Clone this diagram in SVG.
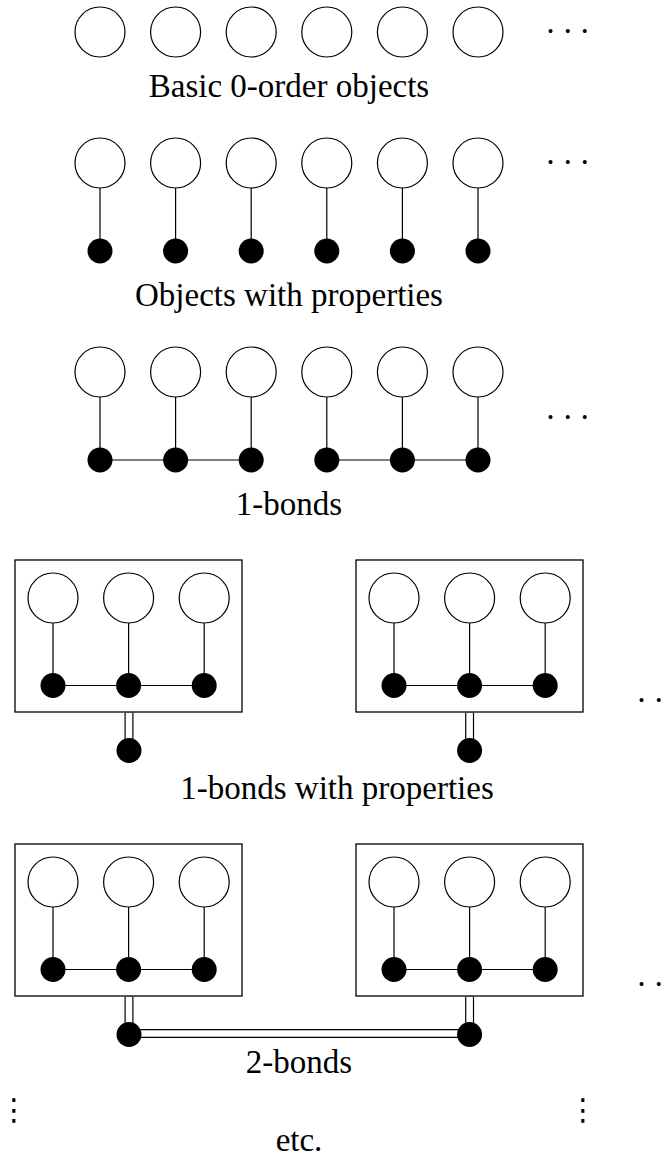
<svg xmlns="http://www.w3.org/2000/svg" width="670" height="1162" viewBox="0 0 670 1162">
<style>
.o{fill:#fff;stroke:#000;stroke-width:1.2}
.f{fill:#000;stroke:none}
.ln{stroke:#000;stroke-width:1.2;fill:none}
.box{fill:none;stroke:#000;stroke-width:1.3}
.dbo{stroke:#000;stroke-width:9;fill:none}
.dbi{stroke:#fff;stroke-width:6.6;fill:none}
.lbl{font-family:"Liberation Serif","DejaVu Serif",serif;font-size:33px;fill:#000;text-anchor:middle}
.dots{font-family:"Liberation Serif","DejaVu Serif",serif;font-size:33px;fill:#000;letter-spacing:6.25px}
.vdots{font-family:"DejaVu Sans",sans-serif;font-size:30px;fill:#000;text-anchor:middle}
</style>
<rect width="670" height="1162" fill="#fff"/>

<g id="connectors">
  <path class="ln" d="M100 188V251M175.6 188V251M251.2 188V251M326.8 188V251M402.4 188V251M478 188V251"/>
  <path class="ln" d="M100 397V460M175.6 397V460M251.2 397V460M326.8 397V460M402.4 397V460M478 397V460"/>
  <path class="ln" d="M100 460H251.2M326.8 460H478"/>
  <path class="ln" d="M53 623V685.5M128.6 623V685.5M204.2 623V685.5M53 685.5H204.2"/>
  <path class="ln" d="M394 623V685.5M469.6 623V685.5M545.2 623V685.5M394 685.5H545.2"/>
  <path class="dbo" d="M129 712.7V750M469.6 712.7V750"/>
  <path class="dbi" d="M129 712.7V750M469.6 712.7V750"/>
  <path class="ln" d="M53 907V969.5M128.6 907V969.5M204.2 907V969.5M53 969.5H204.2"/>
  <path class="ln" d="M394 907V969.5M469.6 907V969.5M545.2 907V969.5M394 969.5H545.2"/>
  <path class="dbo" d="M129 996.7V1034M469.6 996.7V1034M129 1033.5H469.6"/>
  <path class="dbi" d="M129 996.7V1034M469.6 996.7V1034M129 1033.5H469.6"/>
</g>

<g id="row1">
  <circle class="o" cx="100" cy="32" r="25"/>
  <circle class="o" cx="175.6" cy="32" r="25"/>
  <circle class="o" cx="251.2" cy="32" r="25"/>
  <circle class="o" cx="326.8" cy="32" r="25"/>
  <circle class="o" cx="402.4" cy="32" r="25"/>
  <circle class="o" cx="478" cy="32" r="25"/>
  <text class="dots" x="544.9" y="41.6">···</text>
  <text class="lbl" x="289" y="97">Basic 0-order objects</text>
</g>

<g id="row2">
  <circle class="o" cx="100" cy="163" r="25"/>
  <circle class="o" cx="175.6" cy="163" r="25"/>
  <circle class="o" cx="251.2" cy="163" r="25"/>
  <circle class="o" cx="326.8" cy="163" r="25"/>
  <circle class="o" cx="402.4" cy="163" r="25"/>
  <circle class="o" cx="478" cy="163" r="25"/>
  <circle class="f" cx="100" cy="251" r="12.5"/>
  <circle class="f" cx="175.6" cy="251" r="12.5"/>
  <circle class="f" cx="251.2" cy="251" r="12.5"/>
  <circle class="f" cx="326.8" cy="251" r="12.5"/>
  <circle class="f" cx="402.4" cy="251" r="12.5"/>
  <circle class="f" cx="478" cy="251" r="12.5"/>
  <text class="dots" x="544.9" y="172.6">···</text>
  <text class="lbl" x="289" y="306">Objects with properties</text>
</g>

<g id="row3">
  <circle class="o" cx="100" cy="372" r="25"/>
  <circle class="o" cx="175.6" cy="372" r="25"/>
  <circle class="o" cx="251.2" cy="372" r="25"/>
  <circle class="o" cx="326.8" cy="372" r="25"/>
  <circle class="o" cx="402.4" cy="372" r="25"/>
  <circle class="o" cx="478" cy="372" r="25"/>
  <circle class="f" cx="100" cy="460" r="12.5"/>
  <circle class="f" cx="175.6" cy="460" r="12.5"/>
  <circle class="f" cx="251.2" cy="460" r="12.5"/>
  <circle class="f" cx="326.8" cy="460" r="12.5"/>
  <circle class="f" cx="402.4" cy="460" r="12.5"/>
  <circle class="f" cx="478" cy="460" r="12.5"/>
  <text class="dots" x="544.9" y="427.6">···</text>
  <text class="lbl" x="289" y="515">1-bonds</text>
</g>

<g id="section4-left">
  <rect class="box" x="15" y="560" width="227" height="152"/>
  <circle class="o" cx="53" cy="598" r="25"/>
  <circle class="o" cx="128.6" cy="598" r="25"/>
  <circle class="o" cx="204.2" cy="598" r="25"/>
  <circle class="f" cx="53" cy="685.5" r="12.5"/>
  <circle class="f" cx="128.6" cy="685.5" r="12.5"/>
  <circle class="f" cx="204.2" cy="685.5" r="12.5"/>
  <circle class="f" cx="129" cy="750.5" r="12.5"/>
</g>
<g id="section4-right">
  <rect class="box" x="356" y="560" width="227" height="152"/>
  <circle class="o" cx="394" cy="598" r="25"/>
  <circle class="o" cx="469.6" cy="598" r="25"/>
  <circle class="o" cx="545.2" cy="598" r="25"/>
  <circle class="f" cx="394" cy="685.5" r="12.5"/>
  <circle class="f" cx="469.6" cy="685.5" r="12.5"/>
  <circle class="f" cx="545.2" cy="685.5" r="12.5"/>
  <circle class="f" cx="469.6" cy="750.5" r="12.5"/>
</g>
<g id="section4-label">
  <text class="dots" x="636" y="710.6">··</text>
  <text class="lbl" x="337" y="799">1-bonds with properties</text>
</g>

<g id="section5-left">
  <rect class="box" x="15" y="844" width="227" height="152"/>
  <circle class="o" cx="53" cy="882" r="25"/>
  <circle class="o" cx="128.6" cy="882" r="25"/>
  <circle class="o" cx="204.2" cy="882" r="25"/>
  <circle class="f" cx="53" cy="969.5" r="12.5"/>
  <circle class="f" cx="128.6" cy="969.5" r="12.5"/>
  <circle class="f" cx="204.2" cy="969.5" r="12.5"/>
  <circle class="f" cx="129" cy="1034.5" r="12.5"/>
</g>
<g id="section5-right">
  <rect class="box" x="356" y="844" width="227" height="152"/>
  <circle class="o" cx="394" cy="882" r="25"/>
  <circle class="o" cx="469.6" cy="882" r="25"/>
  <circle class="o" cx="545.2" cy="882" r="25"/>
  <circle class="f" cx="394" cy="969.5" r="12.5"/>
  <circle class="f" cx="469.6" cy="969.5" r="12.5"/>
  <circle class="f" cx="545.2" cy="969.5" r="12.5"/>
  <circle class="f" cx="469.6" cy="1034.5" r="12.5"/>
</g>
<g id="section5-label">
  <text class="dots" x="636" y="994.6">··</text>
  <text class="lbl" x="299" y="1073">2-bonds</text>
</g>

<g id="etc">
  <text class="vdots" x="14" y="1120">⋮</text>
  <text class="vdots" x="583" y="1120">⋮</text>
  <text class="lbl" x="299" y="1151">etc.</text>
</g>
</svg>
